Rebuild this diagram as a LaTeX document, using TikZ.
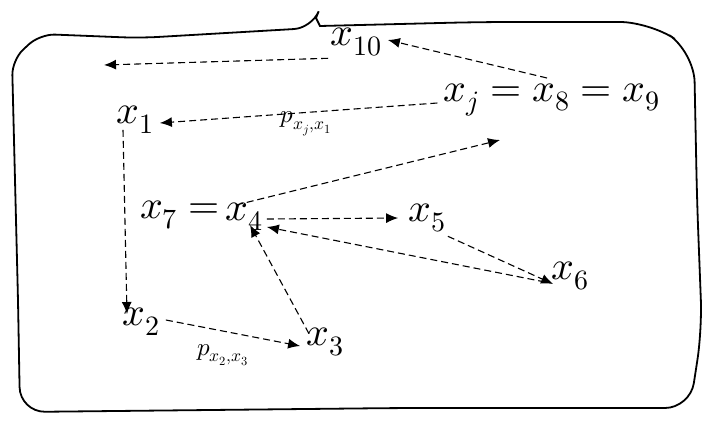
\documentclass[tikz,border=0pt]{standalone}
\usepackage{unicode-math}
\setmathfont{Latin Modern Math}
\usetikzlibrary{arrows.meta}
\begin{document}
\begin{tikzpicture}[x=1pt,y=-1pt,
  var/.style={font=\fontsize{40}{42}\selectfont,inner sep=0pt},
  prob/.style={font=\fontsize{25}{26}\selectfont,inner sep=0pt},
  link/.style={line width=1.1pt,dash pattern=on 7pt off 4pt,-{Latex[length=12pt,width=10pt]}}]
\useasboundingbox (0,0) rectangle (708,426);
% region boundary
\draw[line width=1.8pt,rounded corners=18pt] (40,34) -- (140,38) -- (312,28)
 [sharp corners] -- (316,18) -- (320,26) [rounded corners=30pt] -- (480,22) -- (650,22)
 -- (694,52) -- (697,200) -- (702,330) [rounded corners=25pt] -- (690,408)
 -- (400,408) -- (20,412) [rounded corners=15pt] -- (18,300) -- (12,60) -- cycle;
% variables
\node[var] (x10) at (356,42) {$x_{10}$};
\node[var] (x1) at (135,120) {$x_1$};
\node[var] (xj) at (552,100) {$x_j = x_8 = x_9$};
\node[var] (x7) at (180,215) {$x_7 =$};
\node[var] (x4) at (244,217) {$x_4$};
\node[var] (x5) at (427,218) {$x_5$};
\node[var] (x6) at (570,276) {$x_6$};
\node[var] (x2) at (141,322) {$x_2$};
\node[var] (x3) at (325,342) {$x_3$};
\node[prob] (p1) at (306,124) {$p_{x_j,x_1}$};
\node[prob] (p2) at (223,355) {$p_{x_2,x_3}$};
\coordinate (out) at (104,65);
% transitions
\draw[link] ([xshift=-2pt,yshift=-2pt]x10.south west) -- (out);
\draw[link] ([xshift=-6pt,yshift=-3pt]xj.west) -- ([xshift=6pt,yshift=-3pt]x1.east);
\draw[link] (547,78) -- ([xshift=6pt,yshift=2pt]x10.east);
\draw[link] ([xshift=-12pt,yshift=4pt]x1.south) -- ([xshift=-14pt,yshift=-6pt]x2.north);
\draw[link] ([xshift=-8pt,yshift=-2pt]x4.north) -- (500,140);
\draw[link] ([xshift=4pt,yshift=-2pt]x4.east) -- ([xshift=-10pt]x5.west);
\draw[link] ([xshift=2pt,yshift=-4pt]x5.south east) -- ([xshift=2pt,yshift=-8pt]x6.west);
\draw[link] ([xshift=-6pt,yshift=-6pt]x6.west) -- ([xshift=4pt,yshift=4pt]x4.south east);
\draw[link] ([xshift=-16pt,yshift=-6pt]x3.north) -- ([xshift=6pt,yshift=6pt]x4.south);
\draw[link] ([xshift=6pt,yshift=2pt]x2.east) -- ([xshift=-6pt,yshift=-4pt]x3.west);
\end{tikzpicture}
\end{document}
